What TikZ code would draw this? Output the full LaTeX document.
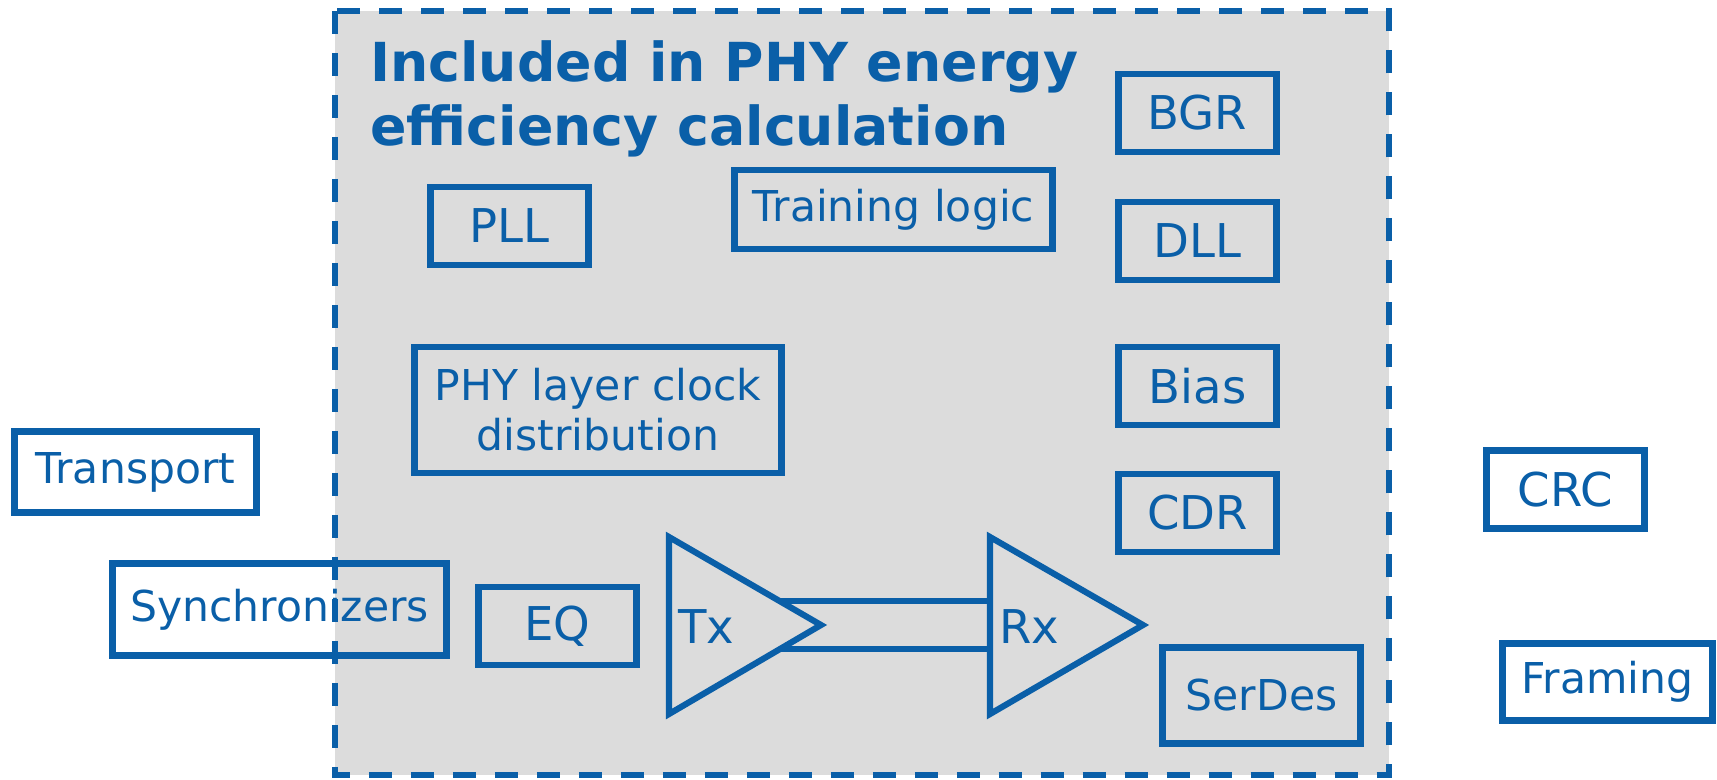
\documentclass[tikz,border=0pt]{standalone}
\usepackage{fontspec}
\setmainfont{DejaVu Sans}
\usetikzlibrary{positioning}
\definecolor{phyblue}{HTML}{0A5FA8}
\definecolor{phygrey}{HTML}{DCDCDC}
\tikzset{
	block/.style={
		draw=phyblue,
		line width=3.5pt,
		rectangle,
		text=phyblue,
		align=center,
		inner sep=0pt,
		font=\fontsize{24.2}{28.5}\selectfont
	},
	big/.style={font=\fontsize{26.5}{32}\selectfont},
	wire/.style={
		draw=phyblue,
		line width=3.5pt
	},
	amp/.style={
		draw=phyblue,
		fill=phygrey,
		line width=3.5pt
	},
}

\begin{document}
\begin{tikzpicture}[x=0.02cm,y=-0.02cm]
\useasboundingbox (0,0) rectangle (1717,779);

% Energy region
\fill[phygrey] (335,11) rectangle (1389,775);

% Title
\node[
	anchor=north west,
	inner sep=0pt,
	align=left,
	text=phyblue,
	font=\bfseries\fontsize{30.6}{36.6}\selectfont
] (Title) at (370,40) {Included in PHY energy\\efficiency calculation};

% Link
\coordinate (TxA) at (700,601);
\coordinate (TxB) at (700,649);
\coordinate (RxA) at (990,601);
\coordinate (RxB) at (990,649);
\draw[wire] (TxA) -- (RxA);
\draw[wire] (TxB) -- (RxB);

% Transmitter
\draw[amp] (669,537) -- (821,625) -- (669,714) -- cycle;
\node[anchor=west,inner sep=0pt,text=phyblue,big] (TxL) at (678,627) {Tx};

% Receiver
\draw[amp] (990,537) -- (1143,625) -- (990,714) -- cycle;
\node[anchor=west,inner sep=0pt,text=phyblue,big] (RxL) at (999,627) {Rx};

% Blocks inside
\node[block,big,minimum width=3.16cm,minimum height=1.56cm] (PLL) at (509.5,226) {PLL};
\node[block,minimum width=6.36cm,minimum height=1.58cm] (Train) at (893.5,209.5) {Training logic};
\node[block,minimum width=7.34cm,minimum height=2.52cm] (Clk) at (598,410) {PHY layer clock \\ distribution};
\node[block,big,minimum width=3.16cm,minimum height=1.56cm] (EQ) at (557.5,626) {EQ};

\node[block,big,minimum width=3.16cm,minimum height=1.56cm] (BGR) at (1197.5,113) {BGR};
\node[block,big,minimum width=3.16cm,minimum height=1.56cm,below=0.877cm of BGR] (DLL) {DLL};
\node[block,big,minimum width=3.16cm,minimum height=1.56cm,below=1.217cm of DLL] (Bias) {Bias};
\node[block,big,minimum width=3.16cm,minimum height=1.56cm,below=0.857cm of Bias] (CDR) {CDR};
\node[block,minimum width=3.96cm,minimum height=1.92cm] (SerDes) at (1261.5,695.5) {SerDes};

% Blocks outside
\node[block,minimum width=4.84cm,minimum height=1.62cm] (Trans) at (135.5,472) {Transport};
\node[block,minimum width=6.68cm,minimum height=1.84cm] (Sync) at (279.5,609.5) {Synchronizers};
\node[block,big,minimum width=3.16cm,minimum height=1.56cm] (CRC) at (1565.5,489.5) {CRC};
\node[block,minimum width=4.2cm,minimum height=1.54cm] (Frame) at (1607.5,682) {Framing};

% Boundary
\draw[phyblue,line width=3.5pt,dash pattern=on 0.46cm off 0.38cm] (335,11) rectangle (1389,775);

\end{tikzpicture}
\end{document}
